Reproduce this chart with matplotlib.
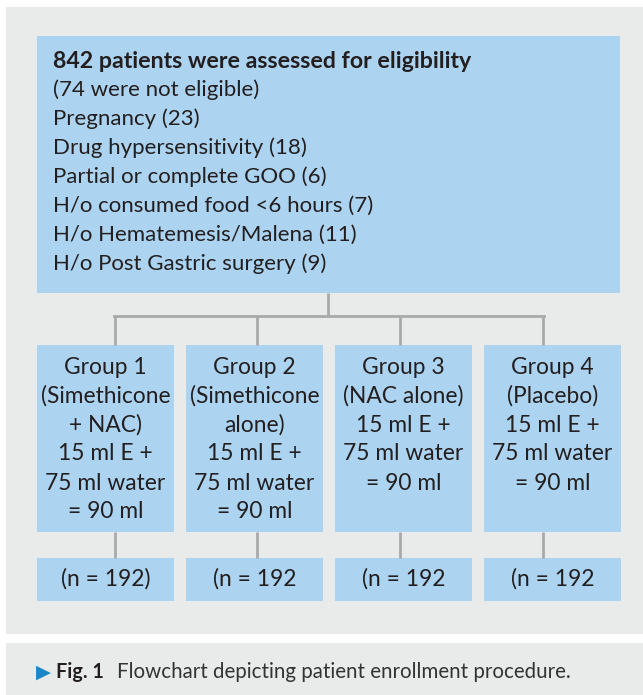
import matplotlib.pyplot as plt
from matplotlib.patches import Rectangle

# flowchart content
total_assessed = 842
not_eligible = 74
reasons = ['Pregnancy', 'Drug hypersensitivity', 'Partial or complete GOO',
           'H/o consumed food <6 hours', 'H/o Hematemesis/Malena',
           'H/o Post Gastric surgery']
reason_counts = [23, 18, 6, 7, 11, 9]
group_labels = ['Group 1', 'Group 2', 'Group 3', 'Group 4']
group_arms = [['(Simethicone', '+ NAC)'], ['(Simethicone', 'alone)'],
              ['(NAC alone)'], ['(Placebo)']]
dose_lines = ['15 ml E +', '75 ml water', '= 90 ml']
group_n = ['(n = 192)', '(n = 192', '(n = 192', '(n = 192']
caption = 'Flowchart depicting patient enrollment procedure.'

panel_col = '#e9ebea'
box_col = '#acd3ef'
line_col = '#a9a9ab'
txt_col = '#231f20'
font = 'Lato'

fig = plt.figure(figsize=(6.43, 6.95), dpi=100)
ax = fig.add_axes([0, 0, 1, 1])
ax.set_xlim(0, 643)
ax.set_ylim(695, 0)
ax.axis('off')

# background panels
ax.add_patch(Rectangle((6, 7), 640, 627, color=panel_col, lw=0))
ax.add_patch(Rectangle((6, 643), 640, 60, color=panel_col, lw=0))

# top box
ax.add_patch(Rectangle((37, 36), 583, 257, color=box_col, lw=0))
top_lines = ['(%d were not eligible)' % not_eligible] + \
            ['%s (%d)' % (r, c) for r, c in zip(reasons, reason_counts)]
ax.text(53, 61, '%d patients were assessed for eligibility' % total_assessed,
        fontsize=16.7, fontweight='bold', family=font, color=txt_col, va='center')
for i, t in enumerate(top_lines):
    ax.text(53, 90 + 29 * i, t, fontsize=16, family=font, color=txt_col, va='center')

# connectors
conn_x = [115, 257, 400, 543]
ax.plot([328, 328], [293, 316], color=line_col, lw=2, solid_capstyle='butt')
ax.plot([conn_x[0] - 1, conn_x[-1] + 1], [316, 316], color=line_col, lw=2)
for cx in conn_x:
    ax.plot([cx, cx], [316, 345], color=line_col, lw=2, solid_capstyle='butt')
    ax.plot([cx, cx], [532, 558], color=line_col, lw=2, solid_capstyle='butt')

# group boxes
for i in range(4):
    x0 = 37 + 149 * i
    ax.add_patch(Rectangle((x0, 345), 137, 187, color=box_col, lw=0))
    ax.add_patch(Rectangle((x0, 558), 137, 43, color=box_col, lw=0))
    lines = [group_labels[i]] + group_arms[i] + dose_lines
    for j, t in enumerate(lines):
        ax.text(x0 + 68.5, 367 + 29 * j, t, fontsize=16.4, family=font,
                color=txt_col, ha='center', va='center')
    ax.text(x0 + 68.5, 579, group_n[i], fontsize=16.4, family=font,
            color=txt_col, ha='center', va='center')

# caption
ax.text(36, 672, '\u25b6', fontsize=14, family='DejaVu Sans', color='#1b86c8', va='center')
ax.text(56, 672, 'Fig. 1', fontsize=14.2, fontweight='bold', family=font,
        color=txt_col, va='center')
ax.text(117, 672, caption, fontsize=14.8, family=font, color='#333333', va='center')

fig.savefig('out.png', dpi=100)
